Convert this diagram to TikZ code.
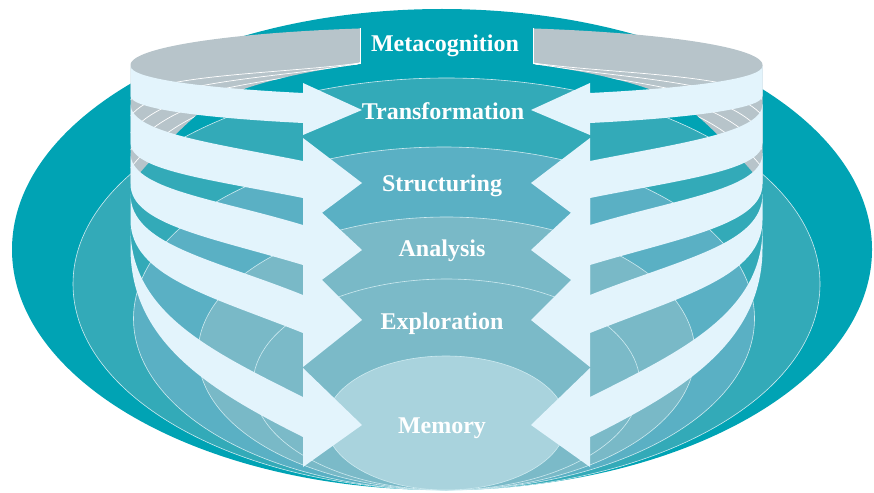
\documentclass[tikz,border=0pt]{standalone}
\usepackage{fontspec}
\setmainfont{Liberation Serif}
\definecolor{ringA}{HTML}{00A3B4}
\definecolor{ringB}{HTML}{33AAB8}
\definecolor{ringC}{HTML}{5AB0C4}
\definecolor{ringD}{HTML}{79B9C7}
\definecolor{ringE}{HTML}{7BBAC8}
\definecolor{ringF}{HTML}{A9D3DD}
\definecolor{ringline}{HTML}{CDEAF0}
\definecolor{ribbon}{HTML}{E3F4FC}
\definecolor{backside}{HTML}{B7C4CA}

% back of the spiral ribbon (left half; mirrored for the right half)
\newcommand\backpath{(130.5,65)
  plot[domain=180:105.9, samples=40, variable=\t] ({446.5+316*cos(\t)},{65-38*sin(\t)})
  -- (360,64) .. controls (300,72) and (235,86) .. (205,108)
  .. controls (180,128) and (150,160) .. (130.5,184) -- cycle}

% one curved arrow of the ribbon: #1/#2 upper edge at the rim / at the head,
% #3/#4 lower edge at the rim / at the head, #5 #6 #7 head corners, #8 end slope
\newcommand\bandarrow[8]{%
  \fill[ribbon] (130.5,#1) .. controls (130.5,{#1+0.5*(#2-#1)}) and (211,{#2-92*#8}) .. (303,#2)
    -- (303,#5) -- (362,#6) -- (303,#7) -- (303,#4)
    .. controls (211,{#4-92*#8}) and (130.5,{#3+0.5*(#4-#3)}) .. (130.5,#3) -- cycle;}

\newcommand\halfspiral{%
  \fill[backside] \backpath;
  \begin{scope}
    \clip \backpath;
    \foreach \k in {100,116,133,150,168}
      \draw[white, line width=0.7] (130.5,\k) .. controls ({130.5+0.55*(\k-63)},{\k-0.7*(\k-63)})
        and (280,{63+0.3*(\k-63)}) .. (360,63);
  \end{scope}
  \draw[white, line width=0.8] (360,28) -- (360,64);
  \bandarrow{66}{93}{96}{123}{83}{110}{135}{0.05}
  \bandarrow{104}{161}{143}{198}{138}{183}{227}{0.2}
  \bandarrow{153}{225}{184}{265}{195}{250}{294}{0.3}
  \bandarrow{194}{295}{220}{333}{261}{320}{367}{0.4}
  \bandarrow{228}{397}{248}{437}{368}{425}{467}{0.5}
}

\begin{document}
\begin{tikzpicture}[x=1pt, y=-1pt,
  ringedge/.style={draw=ringline, line width=0.6pt},
  lbl/.style={text=white, font=\fontsize{24}{28}\selectfont\bfseries, anchor=base, inner sep=0pt}]
\useasboundingbox (0,0) rectangle (874,492);

% nested rings, all touching at the bottom
\fill[ringA] (442,249.5) ellipse [x radius=430, y radius=240.5];
\filldraw[ringB, ringedge] (446.5,284) ellipse [x radius=373.5, y radius=206];
\filldraw[ringC, ringedge] (444,318.5) ellipse [x radius=310.5, y radius=171.5];
\filldraw[ringD, ringedge] (446.5,353.5) ellipse [x radius=248.5, y radius=136.5];
\filldraw[ringE, ringedge] (446.5,384.5) ellipse [x radius=193.5, y radius=105.5];
\filldraw[ringF, ringedge] (446,423) ellipse [x radius=120, y radius=67];

% spiral ribbon, left and right halves
\begin{scope}
  \halfspiral
\end{scope}
\begin{scope}[shift={(893,0)}, xscale=-1]
  \halfspiral
\end{scope}

% level labels
\node[lbl] (meta)   at (445,52)  {Metacognition};
\node[lbl] (trans)  at (443,120) {Transformation};
\node[lbl] (struct) at (442,191) {Structuring};
\node[lbl] (anal)   at (442,256) {Analysis};
\node[lbl] (expl)   at (442,329) {Exploration};
\node[lbl] (mem)    at (442,433) {Memory};
\end{tikzpicture}
\end{document}
